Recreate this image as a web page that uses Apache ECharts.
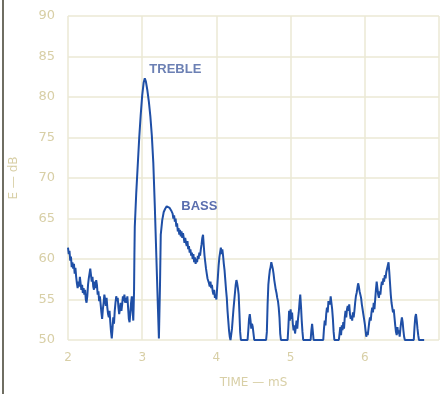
<!DOCTYPE html>
<html>
<head>
<meta charset="utf-8">
<script src="https://cdn.jsdelivr.net/npm/echarts@6/dist/echarts.min.js"></script>
<style>
  html, body { margin: 0; padding: 0; background: #ffffff; }
  #chart { width: 442px; height: 394px; }
</style>
</head>
<body>
<div id="chart"></div>
<script>
// Energy–time response: level (dB) against time (ms)
const timeMs = [
  2.00,2.01,2.02,2.03,2.04,2.05,2.06,2.07,2.08,2.09,2.10,2.11,2.12,2.13,2.14,2.15,2.16,2.17,2.18,2.19,
  2.20,2.21,2.22,2.23,2.24,2.25,2.26,2.27,2.28,2.29,2.30,2.31,2.32,2.33,2.34,2.35,2.36,2.37,2.38,2.39,
  2.40,2.41,2.42,2.43,2.44,2.45,2.46,2.47,2.48,2.49,2.50,2.51,2.52,2.53,2.54,2.55,2.56,2.57,2.58,2.59,
  2.60,2.61,2.62,2.63,2.64,2.65,2.66,2.67,2.68,2.69,2.70,2.71,2.72,2.73,2.74,2.75,2.76,2.77,2.78,2.79,
  2.80,2.81,2.82,2.83,2.84,2.85,2.86,2.87,2.88,
  2.885,2.89,2.895,2.90,2.92,2.94,2.96,2.98,3.00,3.02,3.035,3.05,3.07,3.09,3.11,3.13,3.15,3.17,3.19,3.21,3.225,
  3.23,3.24,3.25,3.27,3.29,3.31,3.33,3.35,3.37,3.39,3.41,3.42,3.43,3.44,3.45,3.46,3.47,3.48,3.49,
  3.50,3.51,3.52,3.53,3.54,3.55,3.56,3.57,3.58,3.59,3.60,3.61,3.62,3.63,3.64,3.65,3.66,3.67,3.68,3.69,
  3.70,3.71,3.72,3.73,3.74,3.75,3.76,3.77,3.78,3.79,3.80,3.81,3.82,3.83,3.84,3.85,3.86,3.87,3.88,3.89,
  3.90,3.91,3.92,3.93,3.94,3.95,3.96,3.97,3.98,3.99,4.00,4.01,4.02,4.03,4.04,4.05,4.06,4.07,4.08,4.09,
  4.10,4.11,4.12,4.13,4.14,4.15,4.16,4.17,4.18,4.19,4.20,4.21,4.22,4.23,4.24,4.25,4.26,4.27,4.28,4.29,
  4.30,4.31,4.32,4.33,4.34,4.42,4.43,4.44,4.45,4.46,4.47,4.48,4.49,4.50,4.51,
  4.52,4.67,4.68,4.69,4.70,4.71,4.72,4.73,4.74,4.75,4.76,4.77,4.78,4.79,4.80,4.81,4.82,4.83,4.84,4.85,4.86,4.87,
  4.96,4.97,4.98,4.99,5.00,5.01,5.02,5.03,5.04,5.05,5.06,5.07,5.08,5.09,5.10,5.11,5.12,5.13,5.14,5.15,5.16,5.17,
  5.27,5.28,5.29,5.30,5.31,
  5.44,5.45,5.46,5.47,5.48,5.49,5.50,5.51,5.52,5.53,5.54,5.55,5.56,5.57,5.58,5.59,
  5.65,5.66,5.67,5.68,5.69,5.70,5.71,5.72,5.73,5.74,5.75,5.76,5.77,5.78,5.79,5.80,5.81,5.82,5.83,5.84,
  5.85,5.86,5.87,5.88,5.89,5.90,5.91,5.92,5.93,5.94,5.95,5.96,5.97,5.98,5.99,6.00,6.01,6.02,6.03,6.04,
  6.05,6.06,6.07,6.08,6.09,6.10,6.11,6.12,6.13,6.14,6.15,6.16,6.17,6.18,6.19,6.20,6.21,6.22,6.23,6.24,
  6.25,6.26,6.27,6.28,6.29,6.30,6.31,6.32,6.33,6.34,6.35,6.36,6.37,6.38,6.39,6.40,6.41,6.42,6.43,6.44,
  6.45,6.46,6.47,6.48,6.49,6.50,6.51,6.52,6.53,6.54,
  6.66,6.67,6.68,6.69,6.70,6.71,6.72,6.73,6.80
];

const levelDb = [
  61.4,60.6,61.0,59.8,60.3,59.0,59.6,58.8,59.4,58.2,58.9,57.8,57.0,56.4,57.2,56.6,57.8,57.0,56.2,56.8,
  55.8,56.4,55.6,56.2,55.0,54.6,55.4,56.8,57.6,58.2,58.8,58.0,57.2,57.8,56.6,56.2,57.2,56.4,57.4,56.8,
  55.6,56.0,54.8,55.4,54.4,53.4,52.6,53.8,54.6,55.6,55.0,54.2,55.2,54.0,53.2,52.8,53.6,52.2,51.0,50.2,
  51.4,52.8,52.0,53.6,54.6,55.4,54.8,55.2,54.0,53.2,53.8,54.6,53.6,54.4,55.4,54.8,55.6,54.6,55.2,54.6,
  55.4,54.0,52.6,52.2,53.4,54.6,55.4,53.6,52.4,
  52.4,56.0,60.5,64.0,68.2,71.6,75.0,77.8,80.2,81.8,82.3,81.9,80.8,79.4,77.6,75.2,71.8,66.5,60.5,54.5,50.2,
  50.4,56.8,63.0,64.8,65.8,66.2,66.5,66.6,66.3,66.0,65.6,65.0,65.4,64.6,65.0,64.0,64.4,63.4,63.8,
  63.0,63.6,62.8,63.4,62.6,63.2,62.6,62.0,62.6,62.0,61.6,62.2,61.2,61.6,60.8,61.2,60.4,60.8,60.0,60.6,
  59.6,60.2,59.4,60.0,59.6,60.4,60.0,60.8,60.4,61.2,61.8,62.6,63.0,61.6,60.4,59.6,58.8,58.2,57.6,57.8,
  57.0,56.6,57.2,56.4,56.8,56.0,55.6,56.2,55.2,55.6,55.0,56.4,57.8,59.2,60.2,60.8,61.4,60.6,61.2,60.4,
  59.4,58.6,57.4,56.2,55.2,53.6,52.4,51.2,50.4,50.0,50.2,51.4,52.6,53.8,54.8,55.8,56.8,57.4,57.0,56.4,
  55.6,53.4,51.0,50.0,50.0,50.0,51.2,52.6,53.2,52.4,51.4,52.0,51.6,50.8,50.0,
  50.0,50.0,51.0,54.4,56.8,57.8,58.6,59.0,59.6,59.2,58.8,58.2,57.4,56.8,56.2,55.8,55.2,54.8,54.0,52.8,50.8,50.0,
  50.0,51.6,53.6,52.4,53.8,52.6,53.4,52.0,51.2,51.8,50.8,51.6,52.4,51.4,52.6,53.4,54.6,55.6,54.2,52.4,51.0,50.0,
  50.0,51.2,52.0,51.0,50.0,
  50.0,51.4,52.4,51.8,53.2,54.0,53.4,54.8,55.0,54.4,55.4,54.6,53.8,52.6,51.0,50.0,
  50.0,50.8,51.6,50.6,51.8,51.2,52.2,51.4,52.8,53.6,52.8,53.8,54.2,53.6,54.4,53.2,52.6,53.0,52.4,53.4,
  52.8,53.6,54.6,55.4,55.8,56.4,57.0,56.6,56.0,55.6,55.2,54.4,53.8,53.2,52.6,52.0,51.2,50.4,51.0,50.6,
  51.4,52.2,52.8,52.4,53.4,54.0,53.4,54.6,53.8,55.0,56.2,57.2,56.4,55.6,55.2,56.0,55.6,56.6,57.2,56.8,
  57.6,57.2,58.0,57.6,58.4,58.8,59.2,59.6,58.4,57.0,55.6,54.6,54.0,53.4,53.8,52.8,51.8,51.0,50.6,51.6,
  50.8,51.2,50.4,51.4,52.2,52.8,52.2,51.2,50.4,50.0,
  50.0,51.6,52.8,53.2,52.4,51.4,50.6,50.0,50.0
];

const yTicks = [50, 55, 60, 65, 70, 75, 80, 85, 90];
const xTicks = [2, 3, 4, 5, 6];

// Curve annotations: [label, time, level]
const annotations = [
  ['TREBLE', 3.447, 83.45],
  ['BASS', 3.77, 66.55]
];

const tan = '#d8cfa6';
const gridColor = '#ebe8d5';

const chart = echarts.init(document.getElementById('chart'), null, { renderer: 'canvas' });

chart.setOption({
  animation: false,
  backgroundColor: '#ffffff',
  grid: { left: 65, right: -2, top: 16, bottom: 49 },
  xAxis: {
    type: 'value',
    min: 2, max: 7, interval: 1,
    name: 'TIME — mS',
    nameLocation: 'middle',
    nameGap: 37,
    nameTextStyle: { color: tan, fontFamily: 'DejaVu Sans', fontSize: 12 },
    axisLine: { show: false },
    axisTick: { show: false },
    axisLabel: {
      color: tan, fontFamily: 'DejaVu Sans', fontSize: 12, margin: 12,
      formatter: v => xTicks.includes(v) ? String(v) : ''
    },
    splitLine: { show: true, lineStyle: { color: gridColor, width: 1.5 } }
  },
  yAxis: {
    type: 'value',
    min: 50, max: 90, interval: 5,
    name: 'E — dB',
    nameLocation: 'middle',
    nameGap: 48,
    nameTextStyle: { color: tan, fontFamily: 'DejaVu Sans', fontSize: 12 },
    axisLine: { show: false },
    axisTick: { show: false },
    axisLabel: {
      color: tan, fontFamily: 'DejaVu Sans', fontSize: 13, margin: 13,
      formatter: v => yTicks.includes(v) ? String(v) : ''
    },
    splitLine: { show: true, lineStyle: { color: gridColor, width: 1.5 } }
  },
  graphic: [
    { type: 'rect', shape: { x: 2, y: 0, width: 2, height: 394 }, style: { fill: '#6f6e62' }, z: 100 }
  ],
  series: [{
    type: 'line',
    data: timeMs.map((t, i) => [t, levelDb[i]]),
    showSymbol: false,
    smooth: false,
    clip: true,
    lineStyle: { color: '#1f4fa6', width: 2 },
    markPoint: {
      symbol: 'circle',
      symbolSize: 0,
      data: annotations.map(a => ({
        coord: [a[1], a[2]],
        label: {
          show: true, position: 'inside', formatter: a[0],
          color: a[0] === 'TREBLE' ? '#6c80b4' : '#5a6eae',
          fontFamily: 'Liberation Sans', fontWeight: 'bold', fontSize: 13
        }
      }))
    }
  }]
});
</script>
</body>
</html>
